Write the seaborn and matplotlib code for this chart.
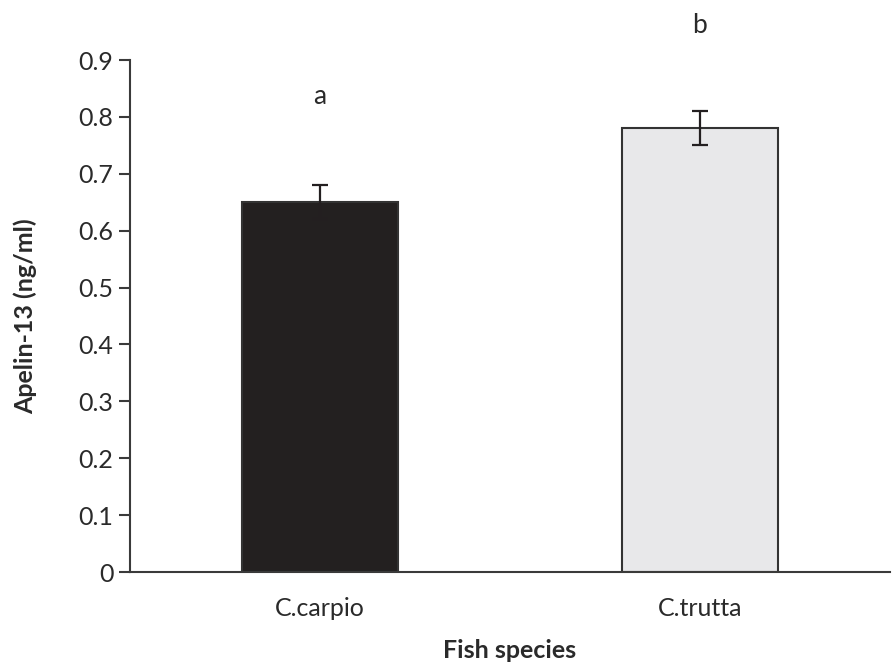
import matplotlib
matplotlib.use("Agg")
import matplotlib.pyplot as plt
import seaborn as sns
import pandas as pd
from matplotlib.ticker import FixedLocator, FuncFormatter

species = ["C.carpio", "C.trutta"]
apelin = [0.65, 0.78]
sem = [0.03, 0.03]
letters = ["a", "b"]
letter_y = [0.835, 0.96]
bar_colors = ["#231f20", "#e8e8ea"]
y_ticks = [0, 0.1, 0.2, 0.3, 0.4, 0.5, 0.6, 0.7, 0.8, 0.9]

sns.set_style("white")
plt.rcParams['font.family'] = ['Lato', 'DejaVu Sans']

df = pd.DataFrame({"species": species, "apelin": apelin})

fig = plt.figure(figsize=(8.92, 6.68), dpi=100)
ax = fig.add_axes([130/892, 1-572/668, (890-130)/892, (572-60)/668])

sns.barplot(data=df, x="species", y="apelin", hue="species", palette=bar_colors,
            width=0.408, edgecolor="#333333", linewidth=1.5, legend=False, ax=ax,
            errorbar=None)

xs = list(range(len(species)))
ax.errorbar(xs, apelin, yerr=sem, fmt="none", ecolor="#231f20", elinewidth=1.6,
            capsize=5.8, capthick=1.6, zorder=5)

for x, t, ly in zip(xs, letters, letter_y):
    ax.text(x, ly, t, ha="center", va="center", fontsize=19, color="#2a2a2a")

ax.set_xlim(-0.5, 1.5)
ax.set_ylim(0, 0.9)
ax.set_yticks(y_ticks)
ax.yaxis.set_major_formatter(FuncFormatter(lambda v, p: "0" if v == 0 else f"{v:.1f}"))
ax.xaxis.set_minor_locator(FixedLocator([-0.5, 0.5, 1.5]))
ax.tick_params(axis="x", which="major", length=0, labelsize=18, pad=18, colors="#2a2a2a")
ax.tick_params(axis="x", which="minor", length=8, width=1.5, color="#3a3a3a", direction="out")
ax.tick_params(axis="y", which="major", length=8, width=1.5, color="#3a3a3a", direction="out",
               labelsize=18, labelcolor="#2a2a2a", left=True, pad=4)

for s in ["top", "right"]:
    ax.spines[s].set_visible(False)
for s in ["left", "bottom"]:
    ax.spines[s].set_color("#3a3a3a")
    ax.spines[s].set_linewidth(1.5)

ax.set_xlabel("Fish species", fontsize=18, fontweight="bold", color="#2a2a2a", labelpad=14)
ax.set_ylabel("Apelin-13 (ng/ml)", fontsize=18, fontweight="bold", color="#2a2a2a", labelpad=30)

fig.savefig("out.png", dpi=100)
